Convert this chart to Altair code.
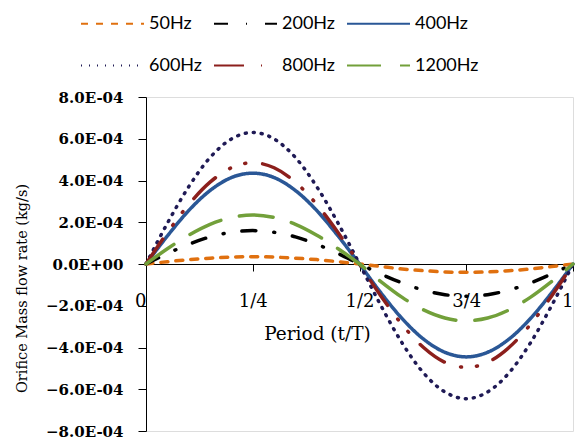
import altair as alt
import pandas as pd

t = [0.0, 0.05, 0.1, 0.15, 0.2, 0.25, 0.3, 0.35, 0.4, 0.45, 0.5,
     0.55, 0.6, 0.65, 0.7, 0.75, 0.8, 0.85, 0.9, 0.95, 1.0]

series = ["50Hz", "200Hz", "400Hz", "600Hz", "800Hz", "1200Hz"]

v50 = [0, 0.11e-4, 0.21e-4, 0.28e-4, 0.33e-4, 0.35e-4, 0.33e-4, 0.28e-4, 0.21e-4, 0.11e-4, 0,
       -0.12e-4, -0.24e-4, -0.32e-4, -0.38e-4, -0.40e-4, -0.38e-4, -0.32e-4, -0.24e-4, -0.12e-4, 0]
v200 = [0, 0.50e-4, 0.94e-4, 1.30e-4, 1.52e-4, 1.60e-4, 1.52e-4, 1.30e-4, 0.94e-4, 0.50e-4, 0,
        -0.48e-4, -0.91e-4, -1.25e-4, -1.47e-4, -1.55e-4, -1.47e-4, -1.25e-4, -0.91e-4, -0.48e-4, 0]
v400 = [0, 1.34e-4, 2.56e-4, 3.52e-4, 4.14e-4, 4.35e-4, 4.14e-4, 3.52e-4, 2.56e-4, 1.34e-4, 0,
        -1.38e-4, -2.62e-4, -3.60e-4, -4.23e-4, -4.45e-4, -4.23e-4, -3.60e-4, -2.62e-4, -1.38e-4, 0]
v600 = [0, 1.95e-4, 3.70e-4, 5.10e-4, 5.99e-4, 6.30e-4, 5.99e-4, 5.10e-4, 3.70e-4, 1.95e-4, 0,
        -1.99e-4, -3.79e-4, -5.22e-4, -6.13e-4, -6.45e-4, -6.13e-4, -5.22e-4, -3.79e-4, -1.99e-4, 0]
v800 = [0, 1.50e-4, 2.85e-4, 3.92e-4, 4.61e-4, 4.85e-4, 4.61e-4, 3.92e-4, 2.85e-4, 1.50e-4, 0,
        -1.53e-4, -2.91e-4, -4.00e-4, -4.71e-4, -4.95e-4, -4.71e-4, -4.00e-4, -2.91e-4, -1.53e-4, 0]
v1200 = [0, 0.73e-4, 1.38e-4, 1.90e-4, 2.23e-4, 2.35e-4, 2.23e-4, 1.90e-4, 1.38e-4, 0.73e-4, 0,
         -0.84e-4, -1.60e-4, -2.20e-4, -2.59e-4, -2.72e-4, -2.59e-4, -2.20e-4, -1.60e-4, -0.84e-4, 0]

values = [v50, v200, v400, v600, v800, v1200]

colors = ["#E0700F", "#000000", "#2A5796", "#1F1A55", "#8C1F1C", "#72A03A"]
dashes = [[7, 8], [14, 18, 1, 18], [1, 0], [1, 7], [30, 17, 1, 15, 1, 17], [34, 19]]

x_ticks = [0, 0.25, 0.5, 0.75, 1]
y_ticks = [-8e-4, -6e-4, -4e-4, -2e-4, 0, 2e-4, 4e-4, 6e-4, 8e-4]

rows = []
for s, vals in zip(series, values):
    for ti, v in zip(t, vals):
        rows.append({"t": ti, "value": v, "series": s})
df = pd.DataFrame(rows)

serif = "DejaVu Serif"

legend_opts = dict(title=None, orient="none", legendX=-66, legendY=-106, columns=3,
                   direction="horizontal",
                   symbolType="stroke", symbolSize=3969, symbolStrokeWidth=2,
                   labelFont="Lato", labelFontSize=18, labelColor="black",
                   labelOffset=4, columnPadding=7, rowPadding=0)

chart = alt.Chart(df).mark_line(strokeWidth=3.5, strokeCap="round", interpolate="monotone").encode(
    x=alt.X("t:Q",
            scale=alt.Scale(domain=[0, 1], nice=False),
            axis=alt.Axis(values=x_ticks, title="Period (t/T)", offset=-167, grid=False,
                          labelExpr="datum.value == 0 ? '0' : datum.value == 0.25 ? '1/4' : datum.value == 0.5 ? '1/2' : datum.value == 0.75 ? '3/4' : '1'",
                          labelAlign={"expr": "datum.value == 0 || datum.value == 1 ? 'right' : 'center'"},
                          labelFont=serif, labelFontSize=18, labelColor="black", labelPadding=21,
                          tickSize=7, tickColor="black", domainColor="black",
                          titleFont=serif, titleFontSize=18.5, titleFontWeight="normal", titleColor="black",
                          titleX=171, titleY=69, titleAlign="center", titleBaseline="middle")),
    y=alt.Y("value:Q",
            scale=alt.Scale(domain=[-8e-4, 8e-4], nice=False),
            axis=alt.Axis(values=y_ticks, title="Orifice Mass flow rate (kg/s)", grid=False,
                          labelExpr="abs(datum.value) < 1e-10 ? '0.0E+00' : format(datum.value * 10000, '.1f') + 'E-04'",
                          labelFont=serif, labelFontSize=15, labelFontWeight="bold", labelColor="black",
                          labelPadding=15, tickSize=8, tickColor="black", domainColor="black",
                          titleFont=serif, titleFontSize=14.5, titleFontWeight="normal", titleColor="black",
                          titleX=-124, titleY=191, titleAngle=-90, titleAlign="center", titleBaseline="middle")),
    color=alt.Color("series:N", sort=series,
                    scale=alt.Scale(domain=series, range=colors),
                    legend=alt.Legend(**legend_opts)),
    strokeDash=alt.StrokeDash("series:N", sort=series,
                              scale=alt.Scale(domain=series, range=dashes),
                              legend=alt.Legend(**legend_opts)),
).properties(
    width=427, height=334,
    autosize=alt.AutoSizeParams(type="none"),
    padding={"left": 146, "top": 97, "right": 6, "bottom": 8},
).configure_view(stroke=None).configure(background="white")

chart.save("out.html", embed_options={"renderer": "svg", "actions": False})
